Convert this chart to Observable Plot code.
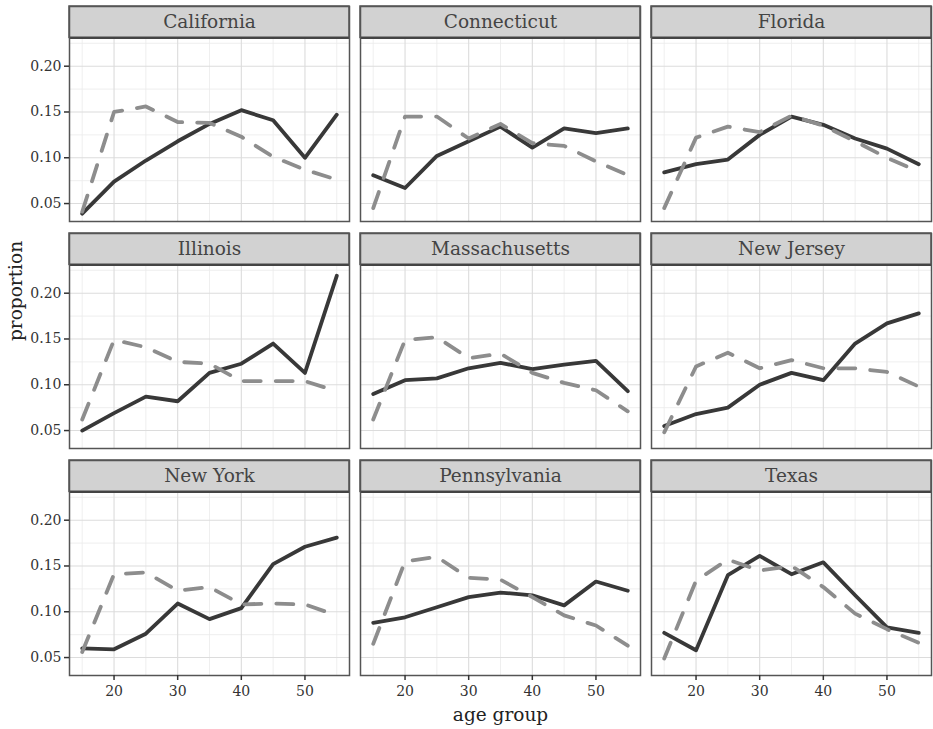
<!DOCTYPE html>
<html>
<head>
<meta charset="utf-8">
<script src="https://cdn.jsdelivr.net/npm/d3@7"></script>
<script src="https://cdn.jsdelivr.net/npm/@observablehq/plot@0.6"></script>
<style>
  html, body { margin: 0; padding: 0; background: #fff; }
</style>
</head>
<body>
<div id="chart"></div>
<script>
// ---- data ----
const ages = [15, 20, 25, 30, 35, 40, 45, 50, 55];
const states = ["California", "Connecticut", "Florida", "Illinois", "Massachusetts",
                "New Jersey", "New York", "Pennsylvania", "Texas"];
// solid (dark) series, one array per state in the order above
const solidValues = [
  [0.039, 0.074, 0.097, 0.118, 0.137, 0.152, 0.141, 0.100, 0.147],
  [0.081, 0.067, 0.102, 0.118, 0.134, 0.111, 0.132, 0.127, 0.132],
  [0.084, 0.093, 0.098, 0.125, 0.145, 0.136, 0.121, 0.110, 0.093],
  [0.050, 0.069, 0.087, 0.082, 0.113, 0.123, 0.145, 0.113, 0.219],
  [0.090, 0.105, 0.107, 0.118, 0.124, 0.117, 0.122, 0.126, 0.093],
  [0.055, 0.068, 0.075, 0.100, 0.113, 0.105, 0.145, 0.167, 0.178],
  [0.060, 0.059, 0.076, 0.109, 0.092, 0.104, 0.152, 0.171, 0.181],
  [0.088, 0.094, 0.105, 0.116, 0.121, 0.118, 0.107, 0.133, 0.123],
  [0.077, 0.058, 0.140, 0.161, 0.141, 0.154, 0.118, 0.083, 0.077]
];
// dashed (grey) series
const dashedValues = [
  [0.041, 0.150, 0.156, 0.139, 0.138, 0.123, 0.101, 0.087, 0.076],
  [0.045, 0.145, 0.145, 0.121, 0.137, 0.116, 0.113, 0.096, 0.081],
  [0.045, 0.122, 0.134, 0.128, 0.146, 0.135, 0.118, 0.100, 0.085],
  [0.062, 0.149, 0.141, 0.125, 0.123, 0.104, 0.104, 0.104, 0.093],
  [0.062, 0.149, 0.152, 0.129, 0.134, 0.113, 0.102, 0.094, 0.071],
  [0.048, 0.120, 0.135, 0.118, 0.127, 0.118, 0.118, 0.114, 0.098],
  [0.056, 0.141, 0.143, 0.123, 0.127, 0.108, 0.109, 0.108, 0.096],
  [0.065, 0.155, 0.160, 0.137, 0.135, 0.116, 0.096, 0.085, 0.063],
  [0.049, 0.134, 0.157, 0.145, 0.150, 0.127, 0.098, 0.081, 0.066]
];
const yTicks = [0.05, 0.10, 0.15, 0.20];
const yMinor = [0.075, 0.125, 0.175, 0.225];
const xTicks = [20, 30, 40, 50];
const xMinor = [15, 25, 35, 45, 55];
const xTitle = "age group";
const yTitle = "proportion";

// ---- layout ----
const W = 933, H = 729;
const mt = 5, mb = 53, ml = 68, mr = 1;
const gapY = 12, gapX = 11, stripPx = 31.5;
const bandH = (H - mt - mb - 2 * gapY) / 3;
const bandW = (W - ml - mr - 2 * gapX) / 3;
const xLo = 13, xHi = 57;
const yLo = 0.0304, yHi = 0.2309;
const yTop = yHi + stripPx * (yHi - yLo) / (bandH - stripPx);

const rows = [];
states.forEach((s, i) => {
  ages.forEach((a, j) => {
    rows.push({state: s, col: i % 3, row: Math.floor(i / 3), age: a, value: solidValues[i][j], series: "solid"});
  });
  ages.forEach((a, j) => {
    rows.push({state: s, col: i % 3, row: Math.floor(i / 3), age: a, value: dashedValues[i][j], series: "dashed"});
  });
});
const cells = states.map((s, i) => ({state: s, col: i % 3, row: Math.floor(i / 3)}));

const font = "'DejaVu Serif', serif";

const chart = Plot.plot({
  width: W,
  height: H,
  marginTop: mt,
  marginBottom: mb,
  marginLeft: ml,
  marginRight: mr,
  style: {fontFamily: font, background: "#fff", color: "#3a3a3a"},
  x: {domain: [xLo, xHi]},
  y: {domain: [yLo, yTop]},
  fx: {axis: null, domain: [0, 1, 2], paddingInner: gapX / (bandW + gapX), paddingOuter: 0},
  fy: {axis: null, domain: [0, 1, 2], paddingInner: gapY / (bandH + gapY), paddingOuter: 0},
  marks: [
    // grid (theme_bw)
    Plot.ruleY(yMinor, {stroke: "#ebebeb", strokeWidth: 0.8}),
    Plot.ruleX(xMinor, {y1: yLo, y2: yHi, stroke: "#ebebeb", strokeWidth: 0.8}),
    Plot.ruleY(yTicks, {stroke: "#dcdcdc", strokeWidth: 1.1}),
    Plot.ruleX(xTicks, {y1: yLo, y2: yHi, stroke: "#dcdcdc", strokeWidth: 1.1}),
    // strip
    Plot.rect([0], {x1: xLo, x2: xHi, y1: yHi, y2: yTop, fill: "#d2d2d2", stroke: "#555", strokeWidth: 1.5}),
    Plot.ruleY([yHi], {stroke: "#444", strokeWidth: 2.4}),
    Plot.text(cells, {fx: "col", fy: "row", text: "state", frameAnchor: "top", dy: stripPx / 2, lineAnchor: "middle",
      fontSize: 18.5, fill: "#444"}),
    // series
    Plot.line(rows.filter(d => d.series === "solid"), {fx: "col", fy: "row", x: "age", y: "value", z: "state",
      stroke: "#383838", strokeWidth: 3.8, strokeLinejoin: "round"}),
    Plot.line(rows.filter(d => d.series === "dashed"), {fx: "col", fy: "row", x: "age", y: "value", z: "state",
      stroke: "#8d8d8d", strokeWidth: 3.8, strokeDasharray: "17,15", strokeLinejoin: "round"}),
    // panel border
    Plot.frame({stroke: "#555", strokeWidth: 1.5}),
    // axes
    Plot.axisY({ticks: yTicks, tickFormat: d3.format(".2f"), tickSize: 5, tickPadding: 3, label: null,
      fontSize: 14, strokeWidth: 1.5, stroke: "#333", fill: "#333"}),
    Plot.axisX({ticks: xTicks, tickFormat: d3.format("d"), tickSize: 5, tickPadding: 6, label: null,
      fontSize: 14, strokeWidth: 1.5, stroke: "#333", fill: "#333"}),
    // axis titles
    Plot.text([yTitle], {fx: () => 0, fy: () => 1, text: d => d, frameAnchor: "left", dx: -53, rotate: -90,
      fontSize: 18.5, fill: "#222"}),
    Plot.text([xTitle], {fx: () => 1, fy: () => 2, text: d => d, frameAnchor: "bottom", dy: 40, lineAnchor: "middle",
      fontSize: 18.5, fill: "#222"})
  ]
});
document.getElementById("chart").appendChild(chart);
</script>
</body>
</html>
